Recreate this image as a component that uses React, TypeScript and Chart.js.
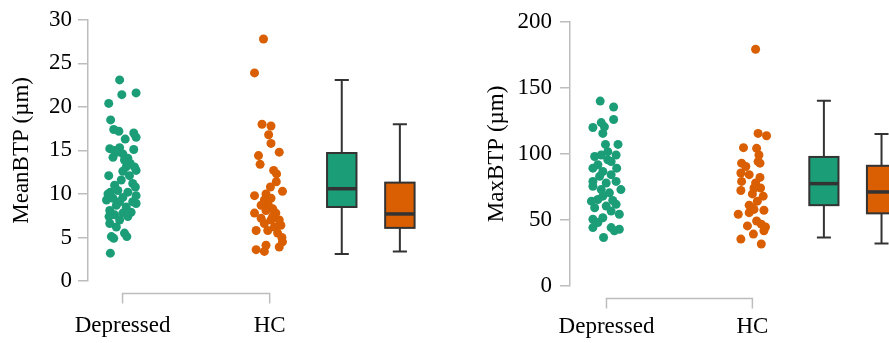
import React, { useEffect, useRef } from "react";
import { Chart, registerables } from "chart.js";
Chart.register(...registerables);

const categories = ["Depressed", "HC"];
const GREEN = "#1b9e77";
const ORANGE = "#d95f02";

// MeanBTP panel
const meanDepValues = [23.1, 21.4, 21.6, 20.4, 18.5, 17.4, 17.2, 16.3, 17.0, 16.5, 15.1, 15.2, 15.0, 15.3, 14.6, 14.1, 13.5, 13.1, 12.7, 13.1, 12.6, 12.1, 11.6, 11.2, 10.8, 11.0, 10.4, 10.2, 10.2, 9.8, 9.6, 9.5, 9.3, 9.1, 8.7, 8.5, 8.9, 8.1, 7.8, 7.9, 7.6, 7.0, 6.6, 7.4, 6.2, 5.1, 4.9, 5.5, 5.1, 3.2, 14.8, 14.2, 12.1, 13.9, 10.0, 9.1, 7.4];
const meanDepJitter = [-0.02, -0.005, 0.092, -0.094, -0.081, -0.06, -0.025, 0.018, 0.076, 0.092, 0.076, -0.087, -0.054, -0.02, 0.002, 0.036, 0.052, 0.081, 0.092, 0.025, 0.002, -0.094, -0.009, 0.069, 0.087, -0.054, -0.032, -0.083, 0.036, 0.092, 0.002, -0.065, -0.109, 0.069, -0.042, 0.025, 0.092, -0.087, 0.002, 0.058, -0.054, -0.02, -0.087, 0.036, -0.042, -0.076, -0.06, 0.013, 0.029, -0.083, -0.038, -0.065, 0.047, 0.013, -0.099, -0.02, -0.092];
const meanHcValues = [27.8, 23.9, 18.0, 17.8, 16.8, 15.8, 14.8, 14.4, 13.4, 12.7, 12.3, 11.4, 10.8, 10.3, 9.8, 10.0, 9.3, 8.7, 8.3, 8.1, 7.8, 7.8, 7.2, 7.0, 7.0, 6.4, 6.2, 6.6, 5.8, 5.8, 5.0, 5.5, 4.5, 3.9, 4.1, 3.6, 3.4, 9.5, 7.4, 8.7];
const meanHcJitter = [-0.042, -0.103, -0.052, 0.009, -0.007, 0.009, 0.065, -0.076, -0.065, 0.027, 0.047, 0.045, 0.005, 0.087, -0.103, -0.025, -0.036, -0.009, 0.02, -0.025, -0.103, 0.042, -0.058, 0.009, 0.065, 0.076, 0.032, -0.036, -0.092, -0.013, 0.083, 0.054, 0.087, 0.065, -0.025, -0.092, -0.036, 0.009, 0.02, -0.058];
// [min, q1, median, q3, max]
const meanDepBox = [3.1, 8.5, 10.6, 14.7, 23.1];
const meanHcBox = [3.4, 6.1, 7.7, 11.3, 18.0];

// MaxBTP panel
const maxDepValues = [140.0, 135.5, 126.0, 120.0, 123.7, 120.5, 115.5, 107.2, 107.2, 98.0, 99.2, 95.5, 99.2, 94.2, 91.8, 89.2, 86.7, 89.2, 84.3, 79.2, 79.2, 75.5, 73.0, 73.0, 70.5, 68.0, 65.5, 64.2, 64.8, 61.8, 59.2, 60.5, 56.7, 54.3, 50.5, 51.7, 48.0, 44.2, 44.2, 43.0, 41.8, 36.7, 78.0, 83.0, 101.7];
const maxDepJitter = [-0.043, 0.049, 0.049, -0.093, -0.036, -0.014, -0.025, -0.007, 0.079, -0.081, -0.036, 0.009, 0.066, 0.032, -0.059, -0.093, -0.025, 0.07, 0.032, -0.093, 0.066, -0.093, -0.036, 0.099, 0.02, -0.025, -0.059, -0.103, 0.043, 0.066, -0.081, -0.002, 0.032, 0.088, -0.093, -0.025, -0.059, -0.093, 0.032, 0.088, 0.054, -0.02, -0.002, -0.047, 0.009];
const maxHcValues = [179.2, 115.5, 113.7, 104.7, 104.2, 99.2, 94.2, 93.0, 93.0, 90.5, 85.5, 84.3, 82.2, 79.2, 78.0, 74.2, 72.3, 68.0, 69.7, 64.2, 61.2, 58.0, 57.3, 54.3, 55.5, 49.2, 46.8, 44.7, 45.5, 41.8, 39.3, 35.5, 31.8, 59.2, 74.2];
const maxHcJitter = [0.022, 0.039, 0.097, -0.061, 0.029, 0.045, 0.039, 0.052, -0.074, -0.045, -0.079, -0.022, 0.052, -0.074, 0.022, 0.011, -0.079, 0.074, 0.0, 0.034, -0.022, 0.011, 0.079, -0.097, -0.022, 0.029, 0.061, 0.09, -0.034, 0.079, 0.007, -0.079, 0.061, 0.0, 0.056];
const maxDepBox = [36.7, 61.2, 77.5, 97.7, 140.2];
const maxHcBox = [32.2, 55.0, 71.2, 91.0, 115.0];

const FONT = "'Liberation Serif', 'Times New Roman', serif";
const AXIS_GREY = "#bdbdbd";

type Panel = {
  title: string;
  dep: number[]; depJ: number[]; hc: number[]; hcJ: number[];
  depBox: number[]; hcBox: number[];
  yMax: number; yStep: number;
  canvasLeft: number; canvasWidth: number;
  axisWidth: number; titlePad: number; tickPad: number;
  xMin: number; xMax: number;
  xAxisHeight: number; labelPad: number;
};

const panels: Panel[] = [
  {
    title: "MeanBTP (µm)", dep: meanDepValues, depJ: meanDepJitter, hc: meanHcValues, hcJ: meanHcJitter,
    depBox: meanDepBox, hcBox: meanHcBox, yMax: 30, yStep: 5,
    canvasLeft: 0, canvasWidth: 444, axisWidth: 88, titlePad: 8, tickPad: 6,
    xMin: 1 - 35 / 149, xMax: 1 + 321 / 149, xAxisHeight: 62, labelPad: 31,
  },
  {
    title: "MaxBTP (µm)", dep: maxDepValues, depJ: maxDepJitter, hc: maxHcValues, hcJ: maxHcJitter,
    depBox: maxDepBox, hcBox: maxHcBox, yMax: 200, yStep: 50,
    canvasLeft: 444, canvasWidth: 445, axisWidth: 126, titlePad: 39, tickPad: 8,
    xMin: 1 - 37 / 148, xMax: 1 + 282 / 148, xAxisHeight: 57, labelPad: 27,
  },
];

const BOX_POS = [2.49, 2.885];
const BOX_HALF = 0.1;
const CAP_HALF = 0.048;

function ChartPanel({ p }: { p: Panel }) {
  const ref = useRef<HTMLCanvasElement | null>(null);
  useEffect(() => {
    if (!ref.current) return;
    const boxPlugin = {
      id: "boxes",
      afterDatasetsDraw(chart: any) {
        const ctx = chart.ctx;
        const xs = chart.scales.x;
        const ys = chart.scales.y;
        const boxes = [
          { s: p.depBox, c: GREEN, pos: BOX_POS[0] },
          { s: p.hcBox, c: ORANGE, pos: BOX_POS[1] },
        ];
        ctx.save();
        for (const b of boxes) {
          const cx = xs.getPixelForValue(b.pos);
          const hw = xs.getPixelForValue(b.pos + BOX_HALF) - cx;
          const cw = xs.getPixelForValue(b.pos + CAP_HALF) - cx;
          const [mn, q1, md, q3, mx] = b.s.map((v: number) => ys.getPixelForValue(v));
          ctx.strokeStyle = "#333333";
          ctx.lineWidth = 2;
          ctx.beginPath();
          ctx.moveTo(cx, q3); ctx.lineTo(cx, mx);
          ctx.moveTo(cx - cw, mx); ctx.lineTo(cx + cw, mx);
          ctx.moveTo(cx, q1); ctx.lineTo(cx, mn);
          ctx.moveTo(cx - cw, mn); ctx.lineTo(cx + cw, mn);
          ctx.stroke();
          ctx.fillStyle = b.c;
          ctx.fillRect(cx - hw, q3, 2 * hw, q1 - q3);
          ctx.strokeRect(cx - hw, q3, 2 * hw, q1 - q3);
          ctx.lineWidth = 3.5;
          ctx.beginPath();
          ctx.moveTo(cx - hw, md); ctx.lineTo(cx + hw, md);
          ctx.stroke();
        }
        ctx.restore();
      },
    };
    const bracketPlugin = {
      id: "bracket",
      afterDraw(chart: any) {
        const ctx = chart.ctx;
        const xs = chart.scales.x;
        const x1 = xs.getPixelForValue(1);
        const x2 = xs.getPixelForValue(2);
        const y = chart.chartArea.bottom + 12.5;
        ctx.save();
        ctx.strokeStyle = AXIS_GREY;
        ctx.lineWidth = 1.5;
        ctx.beginPath();
        ctx.moveTo(x1, y + 10); ctx.lineTo(x1, y); ctx.lineTo(x2, y); ctx.lineTo(x2, y + 10);
        ctx.stroke();
        ctx.restore();
      },
    };
    const chart = new Chart(ref.current, {
      type: "scatter",
      data: {
        datasets: [
          {
            data: p.dep.map((v, i) => ({ x: 1 + p.depJ[i], y: v })),
            backgroundColor: GREEN, borderColor: GREEN, pointRadius: 4.5, borderWidth: 0,
          },
          {
            data: p.hc.map((v, i) => ({ x: 2 + p.hcJ[i], y: v })),
            backgroundColor: ORANGE, borderColor: ORANGE, pointRadius: 4.5, borderWidth: 0,
          },
        ],
      },
      options: {
        animation: false,
        responsive: false,
        layout: { padding: { top: 19, left: 0, right: 0, bottom: 0 } },
        plugins: { legend: { display: false }, tooltip: { enabled: false } },
        scales: {
          x: {
            type: "linear",
            min: p.xMin,
            max: p.xMax,
            grid: { display: false, drawTicks: false },
            border: { display: false },
            afterBuildTicks: (s: any) => { s.ticks = [{ value: 1 }, { value: 2 }]; },
            afterFit: (s: any) => { s.height = p.xAxisHeight; },
            ticks: {
              autoSkip: false, maxRotation: 0, padding: p.labelPad,
              color: "#000", font: { family: FONT, size: 23 },
              callback: (v: any) => categories[Math.round(v) - 1] ?? "",
            },
          },
          y: {
            min: 0,
            max: p.yMax,
            afterFit: (s: any) => { s.width = p.axisWidth; },
            grid: { display: true, drawOnChartArea: false, drawTicks: true, tickLength: 10, color: AXIS_GREY, lineWidth: 1.5 },
            border: { display: true, color: AXIS_GREY, width: 1.5 },
            ticks: { stepSize: p.yStep, padding: p.tickPad, color: "#000", font: { family: FONT, size: 23 } },
            title: {
              display: true, text: p.title, color: "#000",
              font: { family: FONT, size: 23 }, padding: { top: p.titlePad, bottom: 0 },
            },
          },
        },
      },
      plugins: [boxPlugin, bracketPlugin],
    } as any);
    return () => chart.destroy();
  }, [p]);
  return (
    <canvas
      ref={ref}
      width={p.canvasWidth}
      height={343}
      style={{ position: "absolute", left: p.canvasLeft, top: 0, width: p.canvasWidth, height: 343 }}
    />
  );
}

export default function App() {
  return (
    <div style={{ position: "fixed", left: 0, top: 0, width: 889, height: 343, background: "#fff", overflow: "hidden" }}>
      {panels.map((p, i) => (
        <ChartPanel key={i} p={p} />
      ))}
    </div>
  );
}
